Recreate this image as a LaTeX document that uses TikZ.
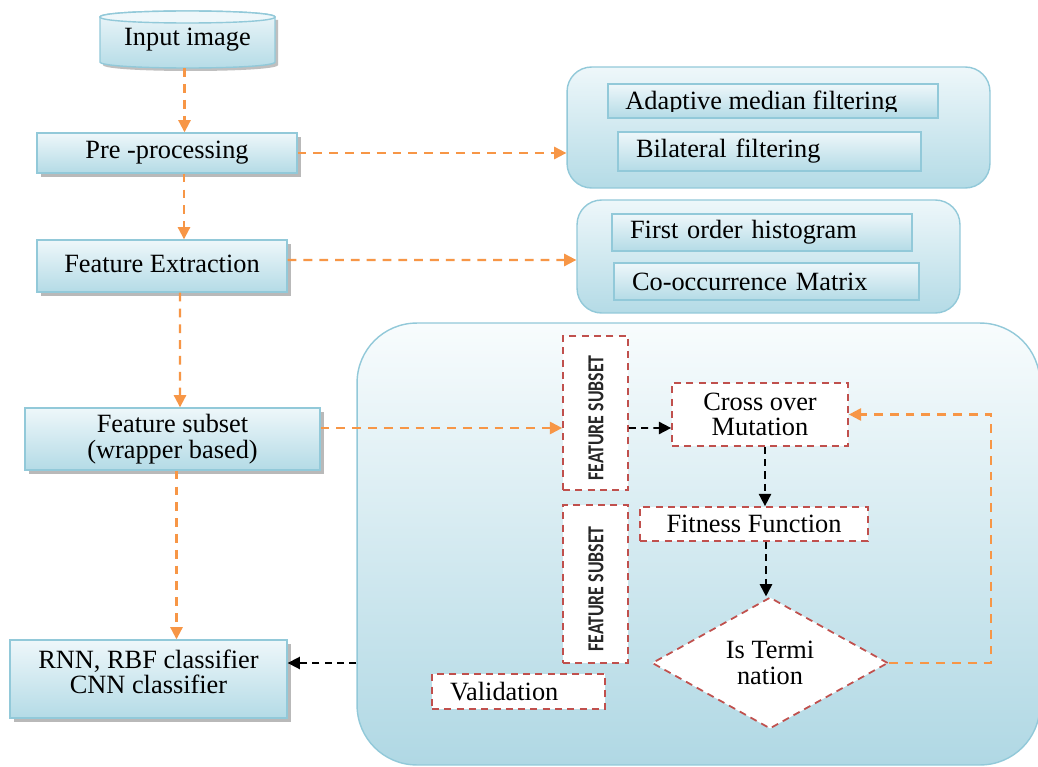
\documentclass[tikz,border=0pt]{standalone}
\usepackage{fontspec}
\setmainfont{Liberation Serif}
\newfontfamily\capfont{Carlito}
\usetikzlibrary{arrows.meta,shapes.geometric,shadows,calc}
\definecolor{boxtop}{HTML}{EEF7FA}
\definecolor{boxbot}{HTML}{B4DBE6}
\definecolor{boxline}{HTML}{92C9D9}
\definecolor{bigtop}{HTML}{F8FCFD}
\definecolor{bigbot}{HTML}{B0D8E4}
\definecolor{arrowor}{HTML}{F79646}
\definecolor{dashred}{HTML}{C0504D}
\begin{document}
\begin{tikzpicture}[x=0.02cm,y=-0.02cm,
  txt/.style={font=\fontsize{15}{14.5}\selectfont, inner sep=0pt, align=center},
  lbox/.style={txt, draw=boxline, line width=0.8pt, top color=boxtop, bottom color=boxbot,
    general shadow={fill=gray!55, shadow xshift=2.5pt, shadow yshift=-2.5pt}},
  ibox/.style={txt, draw=boxline, line width=0.8pt, top color=boxtop, bottom color=boxbot, align=left},
  panel/.style={draw=boxline, line width=0.8pt, top color=boxtop, bottom color=boxbot, rounded corners=14pt, inner sep=0pt},
  rbox/.style={txt, draw=dashred, fill=white, line width=1pt, dash pattern=on 4pt off 3pt},
  vtxt/.style={font=\capfont\bfseries\fontsize{13}{13}\selectfont, text=black!85, rotate=90, inner sep=0pt},
  oarrow/.style={draw=arrowor, line width=1.2pt, dash pattern=on 5pt off 4pt, -{Triangle[length=7pt,width=7pt]}},
  barrow/.style={draw=black, line width=1pt, dash pattern=on 4pt off 3pt, -{Triangle[length=7pt,width=7pt]}}
]
\useasboundingbox (0,0) rectangle (1038,767);
\fill[white] (0,0) rectangle (1038,767);

% cylinder "Input image"
\fill[gray!50] (103,20) -- (103,65) .. controls (103,73) and (278,73) .. (278,65) -- (278,20) -- cycle;
\path[top color=boxtop, bottom color=boxbot, draw=boxline, line width=0.8pt]
  (100,17) -- (100,62) .. controls (100,70) and (275,70) .. (275,62) -- (275,17)
  .. controls (275,9) and (100,9) .. (100,17) -- cycle;
\draw[boxline, line width=0.8pt, fill=boxtop] (100,17) .. controls (100,9) and (275,9) .. (275,17)
  .. controls (275,25) and (100,25) .. (100,17) -- cycle;
\node[txt, minimum width=3.5cm, minimum height=1.12cm] (input) at (187.5,40) {Input image};

% left column
\node[lbox, minimum width=5.2cm, minimum height=0.8cm] (pre) at (167,153) {Pre -processing};
\node[lbox, minimum width=5cm, minimum height=1.04cm] (fe) at (162,266) {\raisebox{2pt}{Feature Extraction}};
\node[lbox, minimum width=5.9cm, minimum height=1.24cm] (fs) at (172.5,439) {Feature subset\\(wrapper based)};
\node[lbox, minimum width=5.54cm, minimum height=1.56cm] (cls) at (148.5,679) {};
\node[txt] (clst) at (148.5,672) {RNN, RBF classifier\\CNN classifier};

% right panels
\node[panel, minimum width=8.46cm, minimum height=2.42cm] (p1) at (778.5,127.5) {};
\node[ibox, minimum width=6.6cm, minimum height=0.68cm] (amf) at (773,101) {};
\begin{scope}
  \clip (600,80) rectangle (945,112);
  \node[txt, anchor=base west] (amft) at (625,110) {Adaptive median filtering};
\end{scope}
\node[ibox, minimum width=6.06cm, minimum height=0.78cm, text width=5.34cm] (bil) at (769.5,151.5) {Bilateral filtering};
\node[panel, minimum width=7.66cm, minimum height=2.26cm] (p2) at (768.5,256.5) {};
\node[ibox, minimum width=6cm, minimum height=0.74cm, text width=5.28cm] (foh) at (762,232.5) {First order histogram};
\node[ibox, minimum width=6.1cm, minimum height=0.74cm, text width=5.38cm] (com) at (766.5,281.5) {Co-occurrence Matrix};

% big panel
\node[draw=boxline, line width=0.8pt, top color=bigtop, bottom color=bigbot, rounded corners=34pt, inner sep=0pt,
  minimum width=13.66cm, minimum height=8.84cm] (big) at (698.5,544) {};

% GA nodes
\node[rbox, minimum width=1.3cm, minimum height=3.08cm] (fsv1) at (595.5,413) {};
\node[vtxt] (fsv1t) at (596,418) {\scalebox{0.78}[1]{FEATURE SUBSET}};
\node[rbox, minimum width=1.3cm, minimum height=3.16cm] (fsv2) at (595.5,584) {};
\node[vtxt] (fsv2t) at (596,589) {\scalebox{0.78}[1]{FEATURE SUBSET}};
\node[rbox, minimum width=3.52cm, minimum height=1.26cm] (cross) at (760,414.5) {Cross over\\Mutation};
\node[rbox, minimum width=4.56cm, minimum height=0.68cm] (fitn) at (754,524) {Fitness Function};
\node[rbox, diamond, minimum width=4.72cm, minimum height=2.34cm] (dia) at (770,663) {Is Termi\\nation};
\node[rbox, minimum width=3.46cm, minimum height=0.7cm, text width=2.74cm, align=left] (val) at (518.5,691.5) {Validation};

% arrows left column
\draw[oarrow] ($(input.south)+(-3,0)$) -- ($(pre.north)+(17.5,0)$);
\draw[oarrow] ($(pre.south)+(17,0)$) -- ($(fe.north)+(22,0)$);
\draw[oarrow] ($(fe.south)+(18,0)$) -- ($(fs.north)+(7.5,0)$);
\draw[oarrow] ($(fs.south)+(4,0)$) -- ($(cls.north)+(28,0)$);

% horizontal arrows
\draw[oarrow] (pre.east) -- (pre.east -| p1.west);
\draw[oarrow] ($(fe.east)+(0,-6)$) -- ($(p2.west)+(0,3.5)$);
\draw[oarrow] ($(fs.east)+(0,-11)$) -- ($(fsv1.west)+(0,15)$);
\draw[barrow] ($(fsv1.east)+(0,15)$) -- ($(cross.west)+(0,13.5)$);
\draw[barrow] ($(cross.south)+(5,0)$) -- ($(fitn.north)+(11,0)$);
\draw[barrow] ($(fitn.south)+(12,0)$) -- ($(dia.north)+(-4,0)$);
\draw[barrow] ($(big.west)+(0,119)$) -- ($(cls.east)+(0,-16)$);
\draw[oarrow] (dia.east) -- ++(102,0) |- (cross.east);
\end{tikzpicture}
\end{document}
